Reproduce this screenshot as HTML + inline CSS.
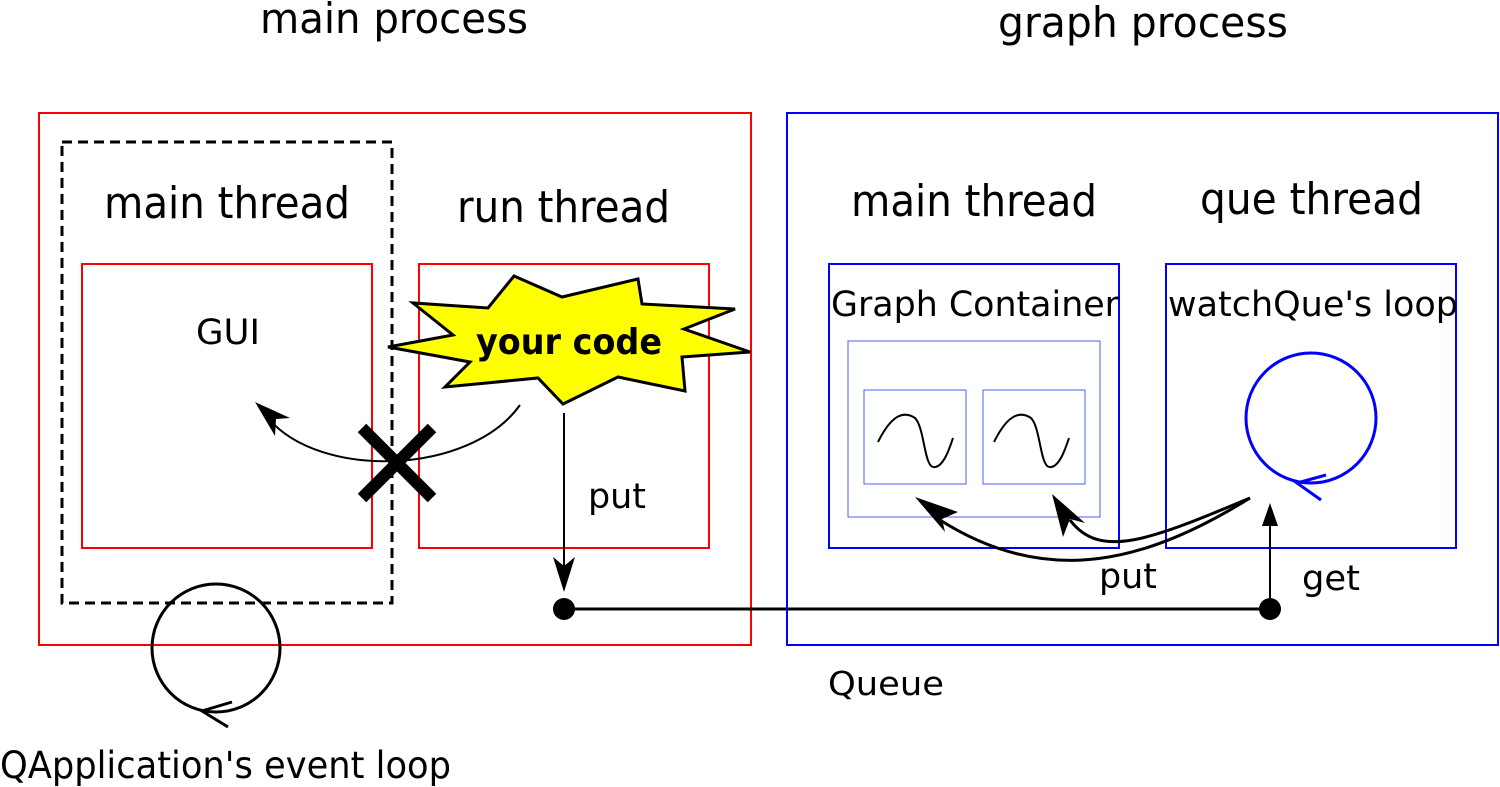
<!DOCTYPE html>
<html><head><meta charset="utf-8"><style>
html,body{margin:0;padding:0;background:#fff;}
svg{display:block;}
text{font-family:"DejaVu Sans","Liberation Sans",sans-serif;fill:#000;}
</style></head><body>
<svg width="1500" height="787" viewBox="0 0 1500 787" xmlns="http://www.w3.org/2000/svg">
<text x="260" y="33" font-size="42" textLength="268" lengthAdjust="spacingAndGlyphs">main process</text>
<text x="998" y="37" font-size="42" textLength="290" lengthAdjust="spacingAndGlyphs">graph process</text>

<rect x="39" y="113" width="712" height="532" fill="none" stroke="#f00" stroke-width="2"/>
<rect x="62" y="142" width="330" height="461" fill="none" stroke="#000" stroke-width="3" stroke-dasharray="10,6"/>
<text x="104" y="218" font-size="44" textLength="246" lengthAdjust="spacingAndGlyphs">main thread</text>
<text x="457" y="222" font-size="44" textLength="213" lengthAdjust="spacingAndGlyphs">run thread</text>
<rect x="82" y="264" width="290" height="284" fill="none" stroke="#f00" stroke-width="2"/>
<rect x="419" y="264" width="290" height="284" fill="none" stroke="#f00" stroke-width="2"/>
<text x="196" y="344" font-size="35" textLength="64" lengthAdjust="spacingAndGlyphs">GUI</text>

<polygon points="514,276 562,297 638,279 642,304 735,309 684,329 750,352 682,357 685,391 618,377 563,404 538,378 445,387 470,362 388,347 453,335 413,303 488,308" fill="#ff0" stroke="#000" stroke-width="3"/>
<text x="476" y="354" font-size="36" font-weight="bold" textLength="186" lengthAdjust="spacingAndGlyphs">your code</text>

<path d="M520,405 C470,475 320,480 268,418" fill="none" stroke="#000" stroke-width="2"/>
<polygon points="255,402 290,418 276,419 275,436" fill="#000"/>
<line x1="362" y1="428" x2="432" y2="498" stroke="#000" stroke-width="12"/>
<line x1="432" y1="428" x2="362" y2="498" stroke="#000" stroke-width="12"/>

<line x1="564" y1="413" x2="564" y2="575" stroke="#000" stroke-width="2"/>
<polygon points="564,592 553,557 564,566 575,557" fill="#000"/>
<text x="588" y="508" font-size="35" textLength="58" lengthAdjust="spacingAndGlyphs">put</text>

<line x1="564" y1="609" x2="1270" y2="609" stroke="#000" stroke-width="3"/>
<circle cx="564" cy="609" r="11" fill="#000"/>
<circle cx="1270" cy="609" r="11" fill="#000"/>
<text x="828" y="695" font-size="33" textLength="116" lengthAdjust="spacingAndGlyphs">Queue</text>

<circle cx="216" cy="648" r="64" fill="none" stroke="#000" stroke-width="3"/>
<polyline points="232,702 202,711 228,727" fill="none" stroke="#000" stroke-width="3"/>
<text x="0" y="778" font-size="37" textLength="451" lengthAdjust="spacingAndGlyphs">QApplication's event loop</text>

<rect x="787" y="113" width="711" height="532" fill="none" stroke="#00f" stroke-width="2"/>
<text x="851" y="216" font-size="44" textLength="246" lengthAdjust="spacingAndGlyphs">main thread</text>
<text x="1200" y="214" font-size="44" textLength="223" lengthAdjust="spacingAndGlyphs">que thread</text>
<rect x="829" y="264" width="290" height="284" fill="none" stroke="#00f" stroke-width="2"/>
<rect x="1166" y="264" width="290" height="284" fill="none" stroke="#00f" stroke-width="2"/>
<text x="831" y="316" font-size="35" textLength="288" lengthAdjust="spacingAndGlyphs">Graph Container</text>
<text x="1168" y="316" font-size="35" textLength="290" lengthAdjust="spacingAndGlyphs">watchQue's loop</text>
<rect x="848" y="341" width="252" height="176" fill="none" stroke="#4d5cff" stroke-width="1"/>
<rect x="864" y="390" width="102" height="94" fill="none" stroke="#4d5cff" stroke-width="1"/>
<rect x="983" y="390" width="102" height="94" fill="none" stroke="#4d5cff" stroke-width="1"/>
<path d="M878,442 C888,422 900,408 915,418 C925,428 924,470 935,467 C944,466 950,447 953,438" fill="none" stroke="#000" stroke-width="2"/>
<path d="M994,442 C1004,422 1016,408 1031,418 C1041,428 1040,470 1051,467 C1060,466 1066,447 1069,438" fill="none" stroke="#000" stroke-width="2"/>

<circle cx="1311" cy="418" r="65" fill="none" stroke="#00f" stroke-width="3"/>
<polyline points="1326,475 1297,483 1321,500" fill="none" stroke="#00f" stroke-width="3"/>

<path d="M1250,498 C1150,560 1050,590 940,520" fill="none" stroke="#000" stroke-width="3"/>
<polygon points="915,497 958,512 942,519 945,532" fill="#000"/>
<path d="M1250,498 C1150,540 1100,560 1070,520" fill="none" stroke="#000" stroke-width="3"/>
<polygon points="1052,494 1085,523 1070,519 1063,537" fill="#000"/>
<text x="1099" y="588" font-size="35" textLength="58" lengthAdjust="spacingAndGlyphs">put</text>

<line x1="1270" y1="598" x2="1270" y2="515" stroke="#000" stroke-width="2"/>
<polygon points="1270,503 1262,526 1278,526" fill="#000"/>
<text x="1302" y="590" font-size="35" textLength="58" lengthAdjust="spacingAndGlyphs">get</text>
</svg>
</body></html>
